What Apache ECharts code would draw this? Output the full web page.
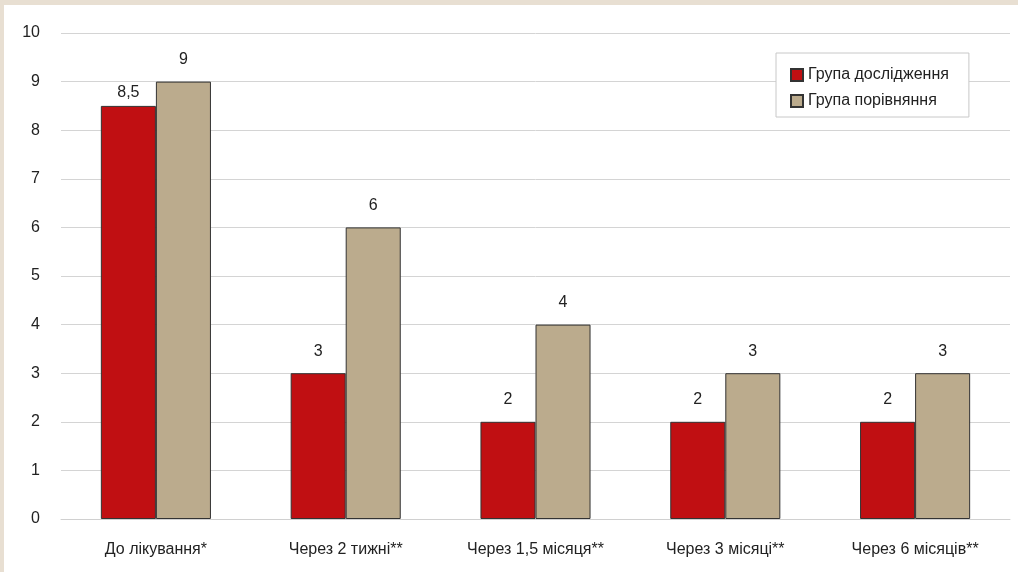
<!DOCTYPE html>
<html>
<head>
<meta charset="utf-8">
<script src="https://cdn.jsdelivr.net/npm/echarts@6/dist/echarts.min.js"></script>
<style>
    html, body { margin: 0; padding: 0; background: #fff; }
    #wrap { width: 1018px; height: 572px; box-sizing: border-box; border-top: 5px solid #e8dfd2; border-left: 4px solid #e8dfd2; }
    #chart { width: 1014px; height: 567px; }
</style>
</head>
<body>
<div id="wrap"><div id="chart"></div></div>
<script>
    let categories = ['До лікування*', 'Через 2 тижні**', 'Через 1,5 місяця**', 'Через 3 місяці**', 'Через 6 місяців**'];
    let studyGroup = [8.5, 3, 2, 2, 2];
    let compareGroup = [9, 6, 4, 3, 3];
    let yTicks = [0, 10, 1];

    // comma as decimal separator
    function fmt(p) {
        return String(p.value).replace('.', ',');
    }

    let myChart = echarts.init(document.getElementById('chart'));
    let font = 'Liberation Sans, Arial, sans-serif';
    let fs = 16;
    let option = {
        animation: false,
        textStyle: { fontFamily: font },
        grid: { left: 57, right: 8, top: 28, bottom: 53 },
        legend: {
            orient: 'vertical',
            left: 772,
            top: 48,
            padding: [14, 20, 8, 14],
            icon: 'rect',
            itemWidth: 12,
            itemHeight: 12,
            itemGap: 10,
            backgroundColor: '#fff',
            borderColor: '#c8c8c8',
            borderWidth: 1,
            textStyle: { fontSize: fs, color: '#222', fontFamily: font }
        },
        xAxis: {
            type: 'category',
            data: categories,
            axisTick: { show: false },
            axisLine: { lineStyle: { color: '#d0d0d0', width: 1 } },
            axisLabel: { fontSize: fs, color: '#222', margin: 23, interval: 0, fontFamily: font }
        },
        yAxis: {
            type: 'value',
            min: yTicks[0],
            max: yTicks[1],
            interval: yTicks[2],
            axisLine: { show: false },
            axisTick: { show: false },
            splitLine: { lineStyle: { color: '#d4d4d4', width: 1 } },
            axisLabel: { fontSize: fs, color: '#222', margin: 21, padding: [3, 0, 0, 0], fontFamily: font }
        },
        series: [
            {
                name: 'Група дослідження',
                type: 'bar',
                barGap: '0%',
                barCategoryGap: '42%',
                data: studyGroup.map(function (v, i) {
                    return i === 0 ? { value: v, label: { distance: 5 } } : v;
                }),
                itemStyle: { color: '#c00f12', borderColor: '#333', borderWidth: 1 },
                label: { show: true, position: 'top', distance: 14, fontSize: fs, color: '#222', fontFamily: font, formatter: fmt }
            },
            {
                name: 'Група порівняння',
                type: 'bar',
                data: compareGroup,
                itemStyle: { color: '#bbab8d', borderColor: '#333', borderWidth: 1 },
                label: { show: true, position: 'top', distance: 14, fontSize: fs, color: '#222', fontFamily: font, formatter: fmt }
            }
        ]
    };
    myChart.setOption(option);
</script>
</body>
</html>
